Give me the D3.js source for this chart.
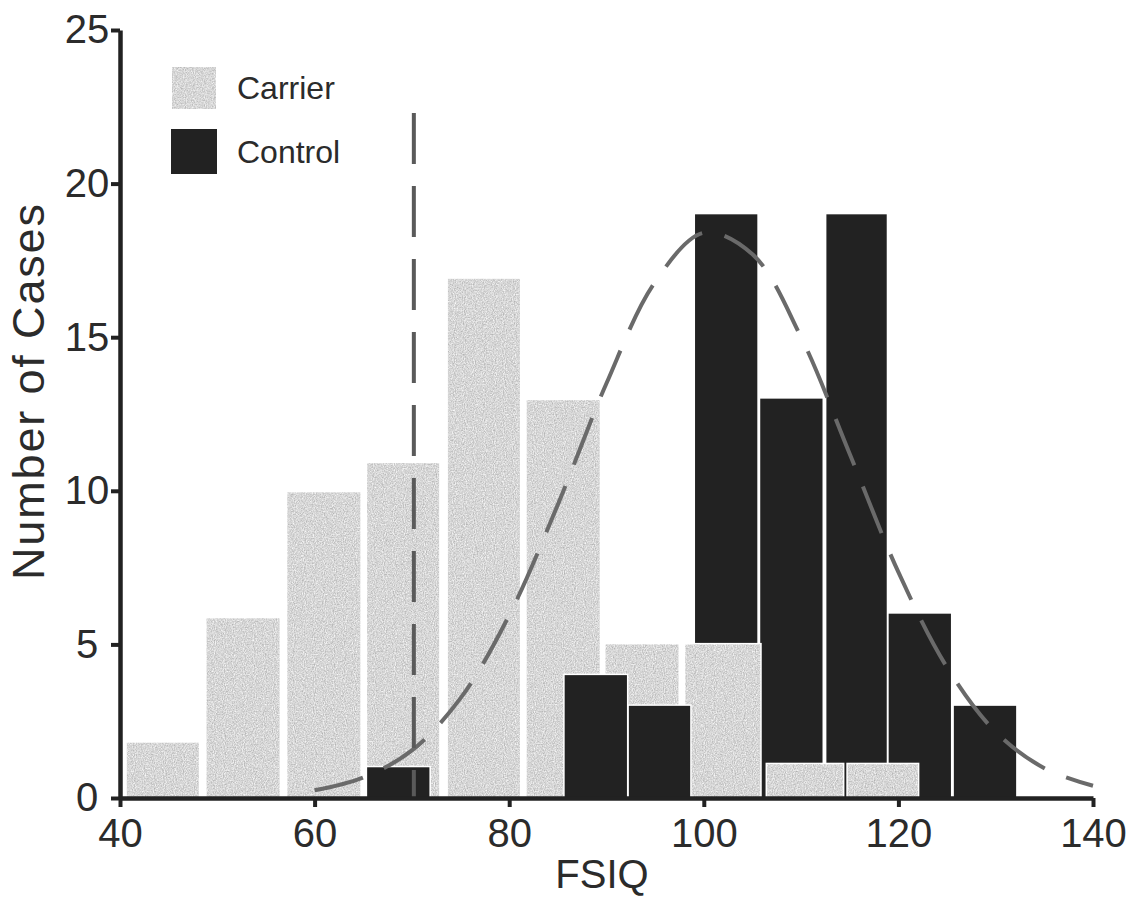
<!DOCTYPE html>
<html>
<head>
<meta charset="utf-8">
<script src="https://cdn.jsdelivr.net/npm/d3@7"></script>
<style>
  body { margin: 0; background: #fff; }
  text { font-family: "Liberation Sans", Arial, Helvetica, sans-serif; fill: #2b2b2b; }
</style>
</head>
<body>
<div class="chart"></div>
<script>
/* histogram data (bin edges in FSIQ points) */
const carrierStart = [40.7, 48.9, 57.2, 65.4, 73.7, 81.8, 89.9, 98.1, 106.5, 114.8];
const carrierEnd   = [48.1, 56.4, 64.7, 72.8, 81.1, 89.3, 97.4, 105.8, 114.3, 122.0];
const carrierCount = [1.8, 5.85, 9.95, 10.9, 16.9, 12.95, 5, 5, 1.1, 1.1];

const controlStart = [65.4, 85.7, 92.3, 99.1, 105.8, 112.6, 119.0, 125.7];
const controlEnd   = [71.8, 92.1, 98.6, 105.5, 112.2, 118.8, 125.4, 132.1];
const controlCount = [1, 4, 3, 19, 13, 19, 6, 3];

/* fitted normal curve */
const curveX = [60, 65, 70, 75, 80, 85, 90, 95, 100, 105, 110, 115, 120, 125, 130, 135, 140];
const curveY = [0.25, 0.67, 1.55, 3.25, 5.95, 9.55, 13.5, 16.8, 18.4, 17.7, 15.0, 11.2, 7.35, 4.25, 2.15, 0.97, 0.4];

/* cut-off line at FSIQ 70 */
const cutoffX = 70.2;
const cutoffTop = 22.3;

const xTicks = [40, 60, 80, 100, 120, 140];
const yTicks = [0, 5, 10, 15, 20, 25];
const legendLabels = ["Carrier", "Control"];

const width = 1134, height = 897;
const x = d3.scaleLinear().domain([40, 140]).range([120, 1093]);
const y = d3.scaleLinear().domain([0, 25]).range([798, 30]);

const svg = d3.select(".chart").append("svg")
    .attr("width", width)
    .attr("height", height);

// grainy light gray fill like the scanned carrier bars
const grain = svg.append("defs").append("filter")
    .attr("id", "grain")
    .attr("color-interpolation-filters", "sRGB")
    .attr("x", 0).attr("y", 0).attr("width", 1).attr("height", 1);
grain.append("feTurbulence")
    .attr("type", "fractalNoise")
    .attr("baseFrequency", "0.9 0.7")
    .attr("numOctaves", 2)
    .attr("seed", 4)
    .attr("result", "noise");
grain.append("feColorMatrix")
    .attr("in", "noise")
    .attr("type", "matrix")
    .attr("values", "0.38 0 0 0 0.65  0.38 0 0 0 0.65  0.38 0 0 0 0.65  0 0 0 0 1")
    .attr("result", "gray");
grain.append("feComposite")
    .attr("in", "gray")
    .attr("in2", "SourceGraphic")
    .attr("operator", "in");

// combine both series, smaller bars sit in front
const bars = carrierCount.map((c, i) => ({group: "Carrier", x0: carrierStart[i], x1: carrierEnd[i], n: c}))
    .concat(controlCount.map((c, i) => ({group: "Control", x0: controlStart[i], x1: controlEnd[i], n: c})))
    .sort((a, b) => b.n - a.n);

const gBars = svg.append("g");
bars.forEach(d => {
    // white halo keeps a gap between overlapping bars
    gBars.append("rect")
        .attr("x", x(d.x0) - 1.5)
        .attr("y", y(d.n) - 1.5)
        .attr("width", x(d.x1) - x(d.x0) + 3)
        .attr("height", y(0) - y(d.n) + 1.5)
        .attr("fill", "#fff");
    const r = gBars.append("rect")
        .attr("x", x(d.x0))
        .attr("y", y(d.n))
        .attr("width", x(d.x1) - x(d.x0))
        .attr("height", y(0) - y(d.n));
    if (d.group === "Carrier") {
        r.attr("fill", "#d4d4d4").attr("filter", "url(#grain)");
    } else {
        r.attr("fill", "#222");
    }
});

// normal curve
const line = d3.line()
    .x((d, i) => x(curveX[i]))
    .y(d => y(d))
    .curve(d3.curveCatmullRom);

svg.append("path")
    .attr("d", line(curveY))
    .attr("fill", "none")
    .attr("stroke", "#6a6a6a")
    .attr("stroke-width", 4)
    .attr("stroke-dasharray", "50,23");

// vertical cut-off
svg.append("line")
    .attr("x1", x(cutoffX)).attr("x2", x(cutoffX))
    .attr("y1", y(cutoffTop)).attr("y2", y(0))
    .attr("stroke", "#5a5a5a")
    .attr("stroke-width", 4)
    .attr("stroke-dasharray", "51,22");

// axes
const xAxis = svg.append("g")
    .attr("transform", `translate(0,${y(0)})`)
    .call(d3.axisBottom(x).tickValues(xTicks).tickSize(9).tickSizeOuter(0).tickPadding(12));
const yAxis = svg.append("g")
    .attr("transform", `translate(${x(40)},0)`)
    .call(d3.axisLeft(y).tickValues(yTicks).tickSize(9).tickSizeOuter(0).tickPadding(4));

[xAxis, yAxis].forEach(a => {
    a.select(".domain").attr("stroke", "#222").attr("stroke-width", 4.5);
    a.selectAll(".tick line").attr("stroke", "#222").attr("stroke-width", 4);
    a.selectAll(".tick text")
        .style("font-size", "40px")
        .style("font-family", '"Liberation Sans", Arial, sans-serif')
        .attr("fill", "#2b2b2b");
});
yAxis.selectAll(".tick text")
    .attr("text-anchor", "middle")
    .attr("x", -33);

// axis titles
svg.append("text")
    .attr("x", 602)
    .attr("y", 888)
    .attr("text-anchor", "middle")
    .style("font-size", "40px")
    .text("FSIQ");

svg.append("text")
    .attr("transform", "translate(44,392) rotate(-90)")
    .attr("text-anchor", "middle")
    .attr("textLength", 376)
    .attr("lengthAdjust", "spacing")
    .style("font-size", "45px")
    .text("Number of Cases");

// legend
const legend = svg.append("g");
legend.append("rect")
    .attr("x", 172).attr("y", 67).attr("width", 44).attr("height", 42)
    .attr("fill", "#d4d4d4").attr("filter", "url(#grain)");
legend.append("rect")
    .attr("x", 171).attr("y", 129).attr("width", 46).attr("height", 45)
    .attr("fill", "#222");
legend.selectAll("text.lbl")
    .data(legendLabels)
    .enter()
    .append("text")
    .attr("class", "lbl")
    .attr("x", 237)
    .attr("y", (d, i) => i === 0 ? 99 : 163)
    .style("font-size", "32px")
    .text(d => d);
</script>
</body>
</html>
